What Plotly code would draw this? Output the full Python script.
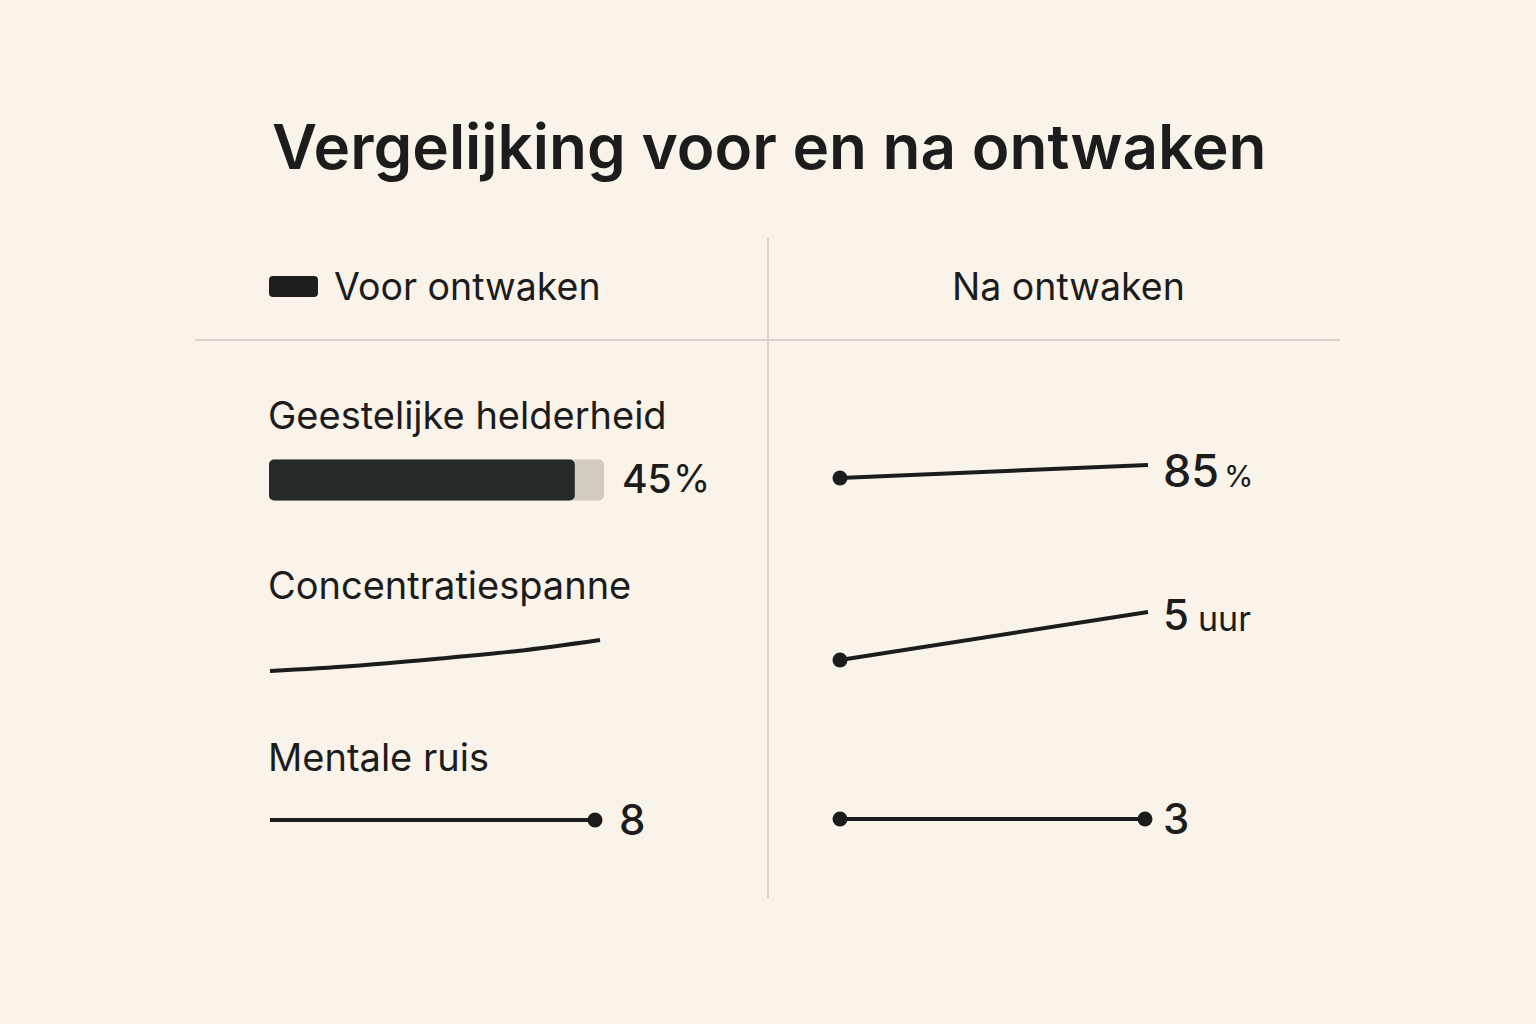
import plotly.graph_objects as go

# ---------------- data ----------------
title = "Vergelijking voor en na ontwaken"
col_headers = ["Voor ontwaken", "Na ontwaken"]
metrics = ["Geestelijke helderheid", "Concentratiespanne", "Mentale ruis"]
before_values = [45, None, 8]
before_labels = ["45", None, "8"]
before_units = ["%", None, None]
after_values = [85, 5, 3]
after_labels = ["85", "5", "3"]
after_units = ["%", "uur", None]
# shape of the little trend lines (rise, start -> end)
before_conc_trend = [0, 5, 12, 20, 31]
after_trends = [[0, 13], [0, 48], [0, 0]]
bar_max = 49.3  # scale of the "voor" bar track

# ---------------- layout constants ----------------
W, H = 1536, 1024
BG = "#f9f3ea"
INK = "#1c1c1c"
GRID = "#cdc9c2"
FONT = "Inter"

left_x0, left_x1 = 270, 600
right_x0, right_x1 = 840, 1148
row_label_y = [415, 585, 757]
row_mark_y = [480, 671, 820]
right_mark_y = [478, 660, 819]
bar_x0, bar_len, bar_h = 269, 335, 41

fig = go.Figure()

# bar (track + fill)
fig.add_trace(go.Bar(x=[bar_len], y=[row_mark_y[0]], base=[bar_x0], orientation="h",
                     width=[bar_h], marker=dict(color="#d2cbc1", line=dict(width=0)),
                     hoverinfo="skip", showlegend=False))
fig.add_trace(go.Bar(x=[before_values[0] / bar_max * bar_len], y=[row_mark_y[0]], base=[bar_x0],
                     orientation="h", width=[bar_h],
                     marker=dict(color="#262929", line=dict(width=0)),
                     hoverinfo="skip", showlegend=False))

# before concentration curve
n = len(before_conc_trend)
xs = [left_x0 + (left_x1 - left_x0) * i / (n - 1) for i in range(n)]
ys = [row_mark_y[1] - v for v in before_conc_trend]
fig.add_trace(go.Scatter(x=xs, y=ys, mode="lines", line=dict(color=INK, width=4, shape="spline"),
                         hoverinfo="skip", showlegend=False))

# before mental noise line with end dot
fig.add_trace(go.Scatter(x=[left_x0, 595], y=[row_mark_y[2]] * 2, mode="lines",
                         line=dict(color=INK, width=4), hoverinfo="skip", showlegend=False))
fig.add_trace(go.Scatter(x=[595], y=[row_mark_y[2]], mode="markers",
                         marker=dict(color=INK, size=15), hoverinfo="skip", showlegend=False))

# after lines
for i, tr in enumerate(after_trends):
    x_end = right_x1 if i < 2 else 1145
    ya = [right_mark_y[i] - v for v in tr]
    fig.add_trace(go.Scatter(x=[right_x0, x_end], y=ya, mode="lines",
                             line=dict(color=INK, width=4), hoverinfo="skip", showlegend=False))
    mx = [right_x0] + ([x_end] if i == 2 else [])
    my = [ya[0]] + ([ya[1]] if i == 2 else [])
    fig.add_trace(go.Scatter(x=mx, y=my, mode="markers", marker=dict(color=INK, size=15),
                             hoverinfo="skip", showlegend=False))

# rounded legend swatch
sx0, sx1, sy0, sy1, r = 269, 318, 276, 297, 4
swatch = (f"M{sx0+r},{sy0} L{sx1-r},{sy0} Q{sx1},{sy0} {sx1},{sy0+r} L{sx1},{sy1-r} "
          f"Q{sx1},{sy1} {sx1-r},{sy1} L{sx0+r},{sy1} Q{sx0},{sy1} {sx0},{sy1-r} "
          f"L{sx0},{sy0+r} Q{sx0},{sy0} {sx0+r},{sy0} Z")

shapes = [
    dict(type="line", xref="x", yref="y", x0=768, x1=768, y0=238, y1=898,
         line=dict(color=GRID, width=1.5)),
    dict(type="line", xref="x", yref="y", x0=195, x1=1340, y0=340, y1=340,
         line=dict(color=GRID, width=1.5)),
    dict(type="path", xref="x", yref="y", path=swatch,
         fillcolor="#1e1e1e", line=dict(width=0)),
]

ann = []
def text(x, y, s, size, anchor="left", weight=400, color=INK):
    ann.append(dict(x=x, y=y, xref="x", yref="y", text=s, showarrow=False,
                    xanchor=anchor, yanchor="middle",
                    font=dict(family=FONT, size=size, color=color, weight=weight)))

text(769, 146, title, 62, anchor="center", weight=600)
text(332, 286, col_headers[0], 37.5)
text(1068, 286, col_headers[1], 37.5, anchor="center")
for i, m in enumerate(metrics):
    text(266, row_label_y[i], m, 38)

# before values
text(620, 478, before_labels[0], 39, weight=500)
text(671, 478, before_units[0], 38)
text(617, 819, before_labels[2], 42, weight=500)

# after values
text(1161, 470, after_labels[0], 45, weight=500)
text(1222, 476, after_units[0], 30)
text(1161, 614, after_labels[1], 42, weight=500)
text(1196, 618, after_units[1], 34)
text(1161, 818, after_labels[2], 42, weight=500)

fig.update_layout(
    width=W, height=H, margin=dict(l=0, r=0, t=0, b=0),
    paper_bgcolor=BG, plot_bgcolor=BG,
    xaxis=dict(range=[0, W], visible=False, fixedrange=True),
    yaxis=dict(range=[H, 0], visible=False, fixedrange=True),
    barmode="overlay", barcornerradius=5,
    shapes=shapes, annotations=ann, showlegend=False,
)
fig.write_html("out.html", config={"displayModeBar": False},
               post_script="document.body.style.margin='0';document.body.style.padding='0';")
